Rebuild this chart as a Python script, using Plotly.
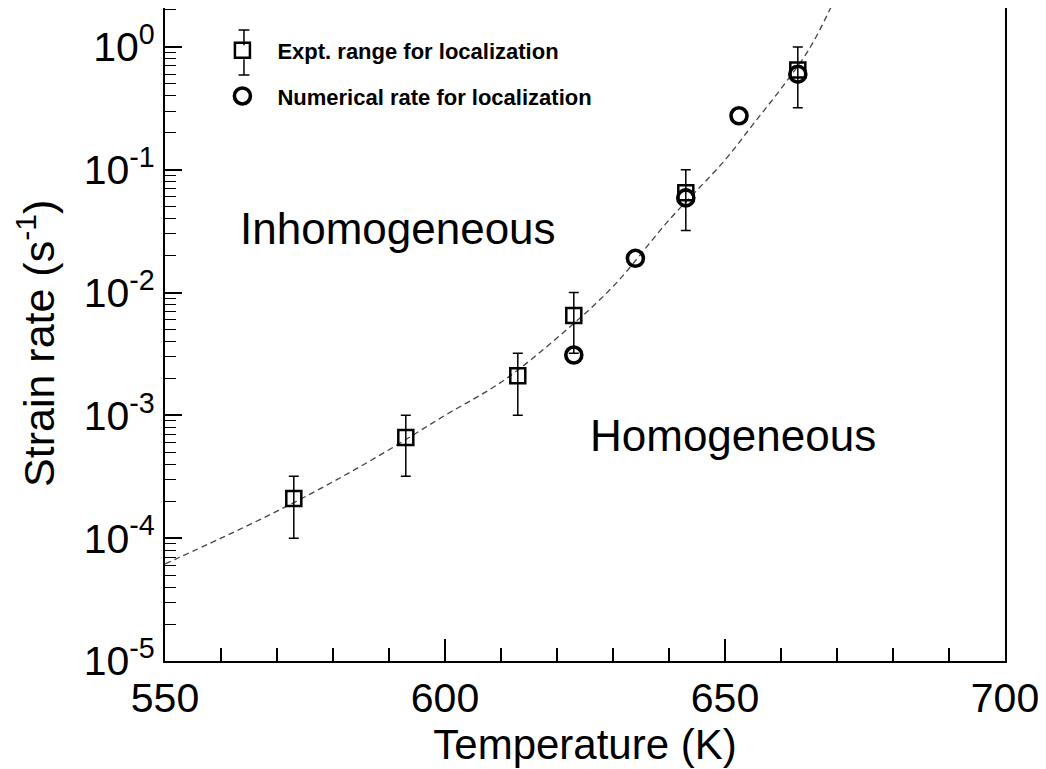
import plotly.graph_objects as go

# ---- data ----
temps_expt = [573, 593, 613, 623, 643, 663]
rate_expt = [2.1e-4, 6.6e-4, 2.1e-3, 6.5e-3, 6.5e-2, 0.65]
rate_expt_hi = [3.2e-4, 1.0e-3, 3.2e-3, 1.0e-2, 0.10, 1.0]
rate_expt_lo = [1.0e-4, 3.2e-4, 1.0e-3, 3.2e-3, 3.2e-2, 0.32]

temps_num = [623, 634, 643, 652.5, 663]
rate_num = [3.1e-3, 1.9e-2, 5.9e-2, 0.275, 0.60]

temps_fit = [550, 560, 570, 580, 590, 600, 610, 620, 630, 640, 650, 655, 660, 665, 669]
rate_fit = [6.17e-5, 1.0e-4, 1.66e-4, 2.88e-4, 5.25e-4, 1.0e-3, 1.86e-3, 4.27e-3,
            1.12e-2, 3.89e-2, 0.120, 0.234, 0.457, 0.955, 2.14]

x_ticks = [550, 600, 650, 700]
y_ticks = [1e-5, 1e-4, 1e-3, 1e-2, 1e-1, 1e0]
y_ticklabels = ["10<sup>-5</sup>", "10<sup>-4</sup>", "10<sup>-3</sup>",
                "10<sup>-2</sup>", "10<sup>-1</sup>", "10<sup>0</sup>"]

err_plus = [h - v for h, v in zip(rate_expt_hi, rate_expt)]
err_minus = [v - l for v, l in zip(rate_expt, rate_expt_lo)]

FONT = "Liberation Sans, Arial, Helvetica, sans-serif"

fig = go.Figure()

fig.add_trace(go.Scatter(
    x=temps_fit, y=rate_fit, mode="lines",
    line=dict(color="#444444", width=1.3, dash="6px,4px", shape="spline"),
    showlegend=False, hoverinfo="skip"))

fig.add_trace(go.Scatter(
    x=temps_expt, y=rate_expt, mode="markers",
    name="<b>Expt. range for localization</b>",
    marker=dict(symbol="square-open", size=15, color="black", line=dict(width=2.5, color="black")),
    error_y=dict(type="data", symmetric=False, array=err_plus, arrayminus=err_minus,
                 color="black", thickness=1.5, width=5),
    legendgroup="a"))

fig.add_trace(go.Scatter(
    x=temps_num, y=rate_num, mode="markers",
    name="<b>Numerical rate for localization</b>",
    marker=dict(symbol="circle-open", size=16, color="black", line=dict(width=3.6, color="black")),
    legendgroup="b"))

# legend error-bar decoration (paper coordinates of the legend icon)
lx = 0.094
leg_bar = [
    dict(type="line", xref="paper", yref="paper", x0=lx, x1=lx, y0=0.9663, y1=0.9430),
    dict(type="line", xref="paper", yref="paper", x0=lx, x1=lx, y0=0.9215, y1=0.8974),
    dict(type="line", xref="paper", yref="paper", x0=lx - 0.0065, x1=lx + 0.0065, y0=0.9663, y1=0.9663),
    dict(type="line", xref="paper", yref="paper", x0=lx - 0.0065, x1=lx + 0.0065, y0=0.8974, y1=0.8974),
]
for s in leg_bar:
    s["line"] = dict(color="black", width=1.5)

fig.update_layout(
    width=1038, height=761, autosize=False,
    margin=dict(l=157, r=41, t=0, b=108, autoexpand=False),
    paper_bgcolor="white", plot_bgcolor="white",
    font=dict(family=FONT, color="black"),
    showlegend=True,
    legend=dict(x=0.0505, y=0.967, xanchor="left", yanchor="top",
                bgcolor="rgba(0,0,0,0)", font=dict(size=22, family=FONT),
                tracegroupgap=14, itemwidth=60),
    shapes=leg_bar,
    xaxis=dict(range=[550, 700], tickmode="array", tickvals=x_ticks,
               ticks="inside", ticklen=22, tickwidth=1.5, tickcolor="black",
               minor=dict(dtick=10, ticks="inside", ticklen=13, tickwidth=1.5, tickcolor="black"),
               showline=True, linewidth=2, linecolor="black", mirror=True,
               showgrid=False, zeroline=False,
               tickfont=dict(size=41, family=FONT),
               title=dict(text="Temperature (K)", font=dict(size=42, family=FONT), standoff=0)),
    yaxis=dict(type="log", range=[-5, 0.317], tickmode="array", tickvals=y_ticks,
               ticktext=y_ticklabels,
               ticks="inside", ticklen=17, tickwidth=1.5, tickcolor="black",
               minor=dict(dtick="D1", ticks="inside", ticklen=11, tickwidth=1.2, tickcolor="black"),
               showline=True, linewidth=2, linecolor="black", mirror=True,
               showgrid=False, zeroline=False,
               tickfont=dict(size=41, family=FONT)),
    annotations=[
        dict(text="Strain rate (s<sup>-1</sup>)", xref="paper", yref="paper",
             x=-0.1536, y=0.487, xanchor="center", yanchor="middle", textangle=-90,
             showarrow=False, font=dict(size=43, family=FONT)),
        dict(text="Inhomogeneous", xref="paper", yref="paper", x=0.087, y=0.6616,
             xanchor="left", yanchor="middle", showarrow=False,
             font=dict(size=44, family=FONT)),
        dict(text="Homogeneous", xref="paper", yref="paper", x=0.5036, y=0.346,
             xanchor="left", yanchor="middle", showarrow=False,
             font=dict(size=44, family=FONT)),
    ],
)

fig.write_html("out.html")
